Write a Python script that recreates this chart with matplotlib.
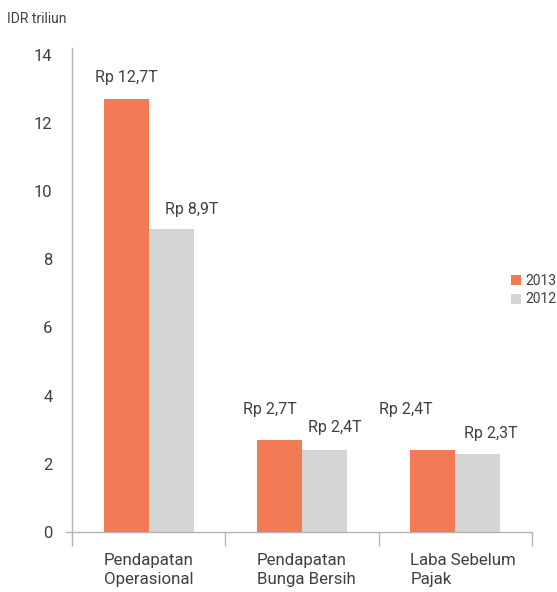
import matplotlib
matplotlib.use("Agg")
import matplotlib.pyplot as plt
import numpy as np

# chart data
categories = ["Pendapatan\nOperasional", "Pendapatan\nBunga Bersih", "Laba Sebelum\nPajak"]
values_2013 = [12.7, 2.7, 2.4]
values_2012 = [8.9, 2.4, 2.3]
labels_2013 = ["Rp 12,7T", "Rp 2,7T", "Rp 2,4T"]
labels_2012 = ["Rp 8,9T", "Rp 2,4T", "Rp 2,3T"]
series_names = ["2013", "2012"]
y_ticks = [0, 2, 4, 6, 8, 10, 12, 14]

ORANGE = "#F27B55"
GREY = "#D4D5D7"
TEXT = "#404040"
AXIS = "#b3b3b3"

plt.rcParams["font.family"] = ["Roboto", "DejaVu Sans"]

fig = plt.figure(figsize=(5.57, 5.92), dpi=100)
ax = fig.add_axes([72 / 557, 60 / 592, 460 / 557, 484 / 592])

x = np.arange(len(categories))
w = 0.2935
ax.bar(x - w / 2, values_2013, width=w, color=ORANGE, label=series_names[0])
ax.bar(x + w / 2, values_2012, width=w, color=GREY, label=series_names[1])

ax.set_xlim(-0.5, len(categories) - 0.5)
ax.set_ylim(0, 14.2)

# value labels, hand-placed offsets (pixels) like the original
off_2013 = [(0, 22), (-10, 30), (-27, 41)]
off_2012 = [(21, 19), (10, 23), (13, 20)]
for i in range(len(categories)):
    ax.annotate(labels_2013[i], (x[i] - w / 2, values_2013[i]),
                xytext=off_2013[i], textcoords="offset pixels",
                ha="center", va="center", fontsize=11.5, color=TEXT)
    ax.annotate(labels_2012[i], (x[i] + w / 2, values_2012[i]),
                xytext=off_2012[i], textcoords="offset pixels",
                ha="center", va="center", fontsize=11.5, color=TEXT)

# axes styling
for s in ["top", "right"]:
    ax.spines[s].set_visible(False)
ax.spines["left"].set_color(AXIS)
ax.spines["bottom"].set_color(AXIS)
ax.spines["left"].set_linewidth(1.0)
ax.spines["bottom"].set_linewidth(1.0)
ax.plot([-0.012, 0], [0, 0], transform=ax.transAxes, color=AXIS, lw=1.0, clip_on=False)

ax.set_yticks(y_ticks)
ax.tick_params(axis="y", length=0, pad=14, labelsize=12, labelcolor=TEXT)
ax.set_xticks(np.arange(-0.5, len(categories), 1.0))
ax.set_xticklabels([])
ax.tick_params(axis="x", length=10, width=1.0, color=AXIS, direction="out")

for i, cat in enumerate(categories):
    ax.text(x[i] - w, -0.62, cat, ha="left", va="top", fontsize=12.2,
            color=TEXT, linespacing=1.3)

fig.text(7 / 557, 1 - 19 / 592, "IDR triliun", ha="left", va="center",
         fontsize=10, color=TEXT)

ax.legend(loc="center left", bbox_to_anchor=(0.954, 0.5), frameon=False,
          fontsize=10, handlelength=0.75, handleheight=0.75, handletextpad=0.3,
          labelspacing=0.35, labelcolor=TEXT, borderaxespad=0, borderpad=0)

fig.savefig("out.png", dpi=100)
